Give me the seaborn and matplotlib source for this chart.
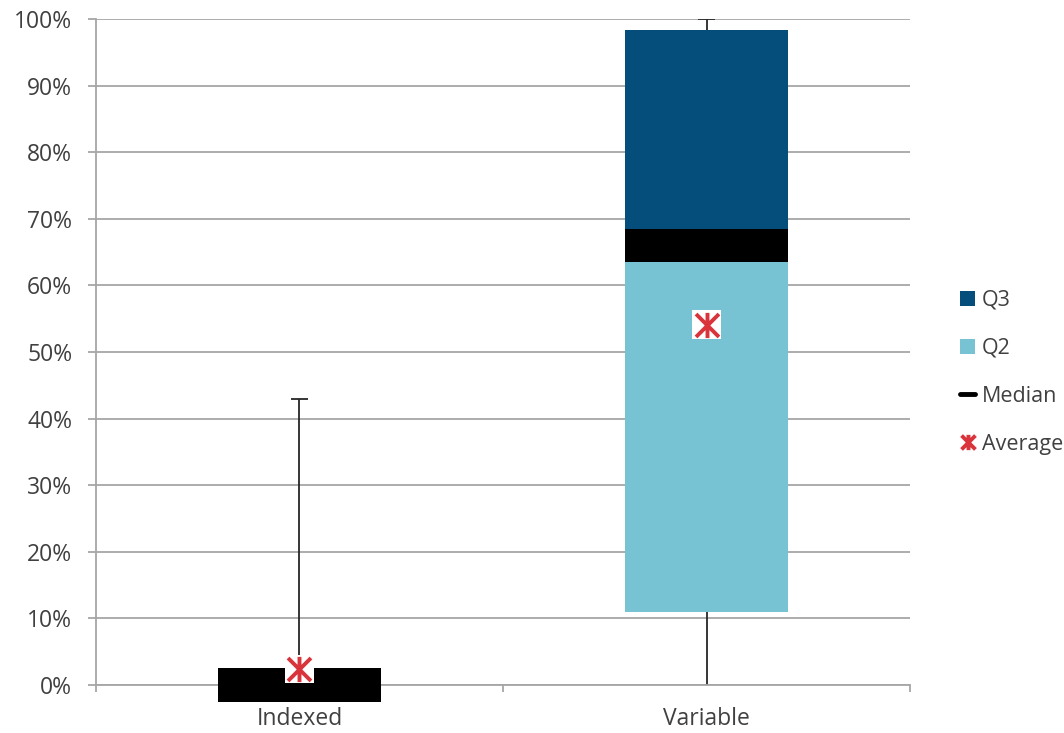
import numpy as np
import pandas as pd
import matplotlib
matplotlib.use("Agg")
import matplotlib.pyplot as plt
import seaborn as sns
from matplotlib.path import Path
from matplotlib.patches import Patch
from matplotlib.lines import Line2D
from matplotlib.ticker import PercentFormatter

# box-plot summary values
categories = ["Indexed", "Variable"]
whisker_low = [0.0, 0.0]
q1 = [0.0, 0.11]
median = [0.0, 0.66]
q3 = [0.0, 0.983]
whisker_high = [0.43, 1.0]
average = [0.024, 0.541]
median_band = 0.05  # thickness of the black median band

q3_color = "#054d7a"
q2_color = "#78c3d3"
avg_color = "#d9343b"
grid_color = "#a6a6a6"
text_color = "#404040"

sns.set_style("white")
plt.rcParams["font.family"] = ["Open Sans", "DejaVu Sans"]

# asterisk marker: an X plus a vertical stroke
star = Path([(-1, -1), (1, 1), (-1, 1), (1, -1), (0, -1.1), (0, 1.1)],
            [Path.MOVETO, Path.LINETO, Path.MOVETO, Path.LINETO, Path.MOVETO, Path.LINETO])

fig, ax = plt.subplots(figsize=(10.64, 7.33), dpi=100)
fig.subplots_adjust(left=0.0902, right=0.8553, top=0.9741, bottom=0.0655)

pos = np.arange(len(categories))
df = pd.DataFrame({
    "cat": categories,
    "q2": np.subtract(median, q1),
    "q3": np.subtract(q3, median),
    "band": [median_band] * len(categories),
})

# whiskers behind the boxes
ax.vlines(pos, whisker_low, q1, color="#262626", lw=1.3, zorder=1)
ax.vlines(pos, q3, whisker_high, color="#262626", lw=1.3, zorder=1)
ax.hlines(whisker_high, pos - 0.022, pos + 0.022, color="#262626", lw=1.3, zorder=1)

sns.barplot(data=df, x="cat", y="q2", bottom=q1, color=q2_color, saturation=1,
            width=0.4, errorbar=None, linewidth=0, ax=ax, zorder=2)
sns.barplot(data=df, x="cat", y="q3", bottom=median, color=q3_color, saturation=1,
            width=0.4, errorbar=None, linewidth=0, ax=ax, zorder=2)
sns.barplot(data=df, x="cat", y="band", bottom=np.subtract(median, median_band / 2),
            color="black", saturation=1, width=0.4, errorbar=None, linewidth=0,
            ax=ax, zorder=3, clip_on=False)

# average markers on a white square
sns.scatterplot(x=pos, y=average, marker="s", s=430, color="white",
                edgecolor="none", ax=ax, zorder=4, clip_on=False)
sns.scatterplot(x=pos, y=average, marker=star, s=330, color=avg_color,
                edgecolor=avg_color, linewidth=2.8, ax=ax, zorder=5, clip_on=False)

ax.set_ylim(0, 1)
ax.set_xlim(-0.5, 1.5)
ax.set_yticks(np.arange(0, 1.01, 0.1))
ax.yaxis.set_major_formatter(PercentFormatter(1.0, decimals=0))
ax.set_xticks(pos)
ax.set_xticklabels(categories)
ax.set_xticks([-0.5, 0.5, 1.5], minor=True)
ax.set_xlabel("")
ax.set_ylabel("")

ax.grid(axis="y", color=grid_color, lw=1.3)
ax.set_axisbelow(True)
for side in ["top", "right"]:
    ax.spines[side].set_visible(False)
for side in ["left", "bottom"]:
    ax.spines[side].set_color(grid_color)
    ax.spines[side].set_linewidth(1.3)

ax.tick_params(axis="y", length=6, width=1.3, color=grid_color, pad=11,
               labelsize=16.5, labelcolor=text_color, left=True)
ax.tick_params(axis="x", which="major", length=0, pad=16,
               labelsize=16.5, labelcolor=text_color)
ax.tick_params(axis="x", which="minor", length=5, width=1.3, color=grid_color,
               bottom=True)

handles = [
    Patch(facecolor=q3_color, edgecolor="none", label="Q3"),
    Patch(facecolor=q2_color, edgecolor="none", label="Q2"),
    Line2D([0], [0], color="black", lw=3.5, label="Median"),
    Line2D([0], [0], marker=star, color=avg_color, mec=avg_color, mew=2.8,
           markersize=11, linestyle="none", label="Average"),
]
leg = fig.legend(handles=handles, loc="center left", bbox_to_anchor=(0.8945, 0.492),
                 frameon=False, fontsize=15.5, handlelength=0.7, handleheight=0.7,
                 handletextpad=0.3, labelspacing=1.25, borderaxespad=0)
for t in leg.get_texts():
    t.set_color(text_color)

fig.savefig("out.png", dpi=100)
